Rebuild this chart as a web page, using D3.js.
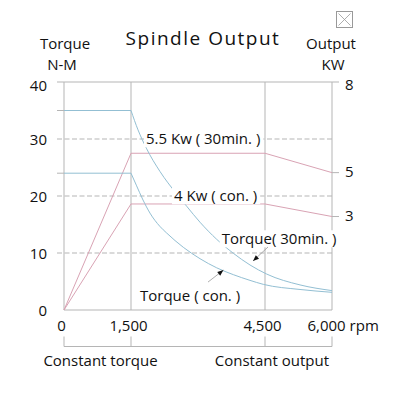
<!DOCTYPE html>
<html>
<head>
<meta charset="utf-8">
<script src="https://cdn.jsdelivr.net/npm/d3@7"></script>
<style>
  body { margin: 0; background: #fff; }
  svg { display: block; font-family: "Open Sans", sans-serif; }
</style>
</head>
<body>
<div id="chart"></div>
<script>
// axis ticks
const rpmTicks = [0, 1500, 4500, 6000];
const torqueTicks = [0, 10, 20, 30, 40];
const torqueGrid = [10, 20, 30];
const torqueMarks = [35, 24];            // short ticks where the torque lines start
const outputTicks = ["8", "5", "3"];
const outputTickAt = [40, 24.1, 16.4];    // where they sit, in torque-axis units

// torque curves (N-M)
const torque30Rpm = [0, 1500, 1657, 1843, 2149, 2507, 2747, 3045, 3419, 3791, 4164, 4539, 5284, 6000];
const torque30Nm  = [35, 35, 31.6, 28.4, 24.3, 20.5, 18.2, 15.4, 12.4, 9.95, 7.9, 6.3, 4.4, 3.4];
const torqueConRpm = [0, 1500, 1619, 1769, 1925, 2143, 2299, 2671, 3045, 3419, 3791, 4164, 4462, 5284, 6000];
const torqueConNm  = [24, 24, 21.9, 19.3, 17.0, 14.7, 13.5, 11.0, 9.0, 7.4, 6.2, 5.2, 4.5, 3.6, 3.1];

// output curves, drawn against the torque axis
const powerRpm = [0, 1500, 4500, 6000];
const power30  = [0, 27.5, 27.5, 24.1];
const powerCon = [0, 18.6, 18.6, 16.4];

const labels = [
  { text: "5.5 Kw ( 30min. )", rpm: 1836, at: 30 },
  { text: "4 Kw ( con. )", rpm: 2463, at: 20 },
  { text: "Torque( 30min. )", rpm: 3531, at: 12.45 },
  { text: "Torque ( con. )", rpm: 1702, at: 2.55 }
];
const arrows = [
  { rpm0: 4567, nm0: 11.05, rpm1: 4232, nm1: 8.6 },
  { rpm0: 3224, nm0: 4.9, rpm1: 3570, nm1: 7.0 }
];

const width = 398, height = 398;
const grey = "#b5b5b5", blue = "#93bfd3", pink = "#d9a3b4";

const svg = d3.select("#chart").append("svg")
  .attr("width", width)
  .attr("height", height);

const x = d3.scaleLinear().domain([0, 6000]).range([64, 332]);
const y = d3.scaleLinear().domain([0, 40]).range([310, 82]);

const grid = svg.append("g").attr("stroke", grey).attr("stroke-width", 1).attr("fill", "none");

// vertical lines
grid.selectAll(".v").data(rpmTicks).join("line")
  .attr("x1", d => x(d)).attr("x2", d => x(d))
  .attr("y1", y(0)).attr("y2", y(40));
// top and bottom
grid.append("line").attr("x1", x(0) - 7).attr("x2", x(6000) + 7).attr("y1", y(40)).attr("y2", y(40));
grid.append("line").attr("x1", x(0)).attr("x2", x(6000)).attr("y1", y(0)).attr("y2", y(0));
// dashed grid
grid.selectAll(".h").data(torqueGrid).join("line")
  .attr("stroke-dasharray", "5,2.5")
  .attr("x1", x(0) - 7).attr("x2", x(6000))
  .attr("y1", d => y(d)).attr("y2", d => y(d));
// small left ticks
grid.selectAll(".t").data(torqueMarks).join("line")
  .attr("x1", x(0) - 7).attr("x2", x(0))
  .attr("y1", d => y(d)).attr("y2", d => y(d));
// right ticks
grid.selectAll(".r").data(outputTickAt.slice(1)).join("line")
  .attr("x1", x(6000)).attr("x2", x(6000) + 7)
  .attr("y1", d => y(d)).attr("y2", d => y(d));

// bottom bracket
grid.append("line").attr("x1", x(0)).attr("x2", x(6000)).attr("y1", 346.5).attr("y2", 346.5);
grid.selectAll(".b").data(rpmTicks).join("line")
  .attr("x1", d => x(d)).attr("x2", d => x(d))
  .attr("y1", 336.5).attr("y2", 346.5);

// lines
const linear = d3.line().x(d => x(d[0])).y(d => y(d[1]));
const smooth = d3.line().x(d => x(d[0])).y(d => y(d[1])).curve(d3.curveMonotoneX);

function torquePath(rpm, nm) {
  const pts = rpm.map((r, i) => [r, nm[i]]);
  return linear(pts.slice(0, 2)) + smooth(pts.slice(1)).replace(/^M/, "L");
}

const lines = svg.append("g").attr("fill", "none").attr("stroke-width", 1);
lines.append("path").attr("stroke", pink).attr("d", linear(powerRpm.map((r, i) => [r, power30[i]])));
lines.append("path").attr("stroke", pink).attr("d", linear(powerRpm.map((r, i) => [r, powerCon[i]])));
lines.append("path").attr("stroke", blue).attr("d", torquePath(torque30Rpm, torque30Nm));
lines.append("path").attr("stroke", blue).attr("d", torquePath(torqueConRpm, torqueConNm));

// labels on white boxes
const lab = svg.append("g").attr("font-size", 15).attr("fill", "#111");
labels.forEach(l => {
  const g = lab.append("g");
  const t = g.append("text")
    .attr("x", x(l.rpm)).attr("y", y(l.at)).attr("dy", "0.35em")
    .text(l.text);
  const bb = t.node().getBBox();
  g.insert("rect", "text")
    .attr("x", bb.x - 2).attr("y", bb.y + 2)
    .attr("width", bb.width + 5).attr("height", bb.height - 3)
    .attr("fill", "#fff");
});

// arrows
svg.append("defs").append("marker")
  .attr("id", "head")
  .attr("viewBox", "0 -5 10 10")
  .attr("refX", 10).attr("refY", 0)
  .attr("markerUnits", "userSpaceOnUse")
  .attr("markerWidth", 8).attr("markerHeight", 6)
  .attr("orient", "auto")
  .append("path").attr("d", "M0,-4L10,0L0,4Z").attr("fill", "#111");

svg.append("g").selectAll("line").data(arrows).join("line")
  .attr("x1", d => x(d.rpm0)).attr("y1", d => y(d.nm0))
  .attr("x2", d => x(d.rpm1)).attr("y2", d => y(d.nm1))
  .attr("stroke", "#999").attr("stroke-width", 0.8)
  .attr("marker-end", "url(#head)");

// axes
const yAxis = svg.append("g")
  .attr("transform", `translate(${x(0)},0)`)
  .call(d3.axisLeft(y).tickValues(torqueTicks).tickSize(0).tickPadding(17));
const xAxis = svg.append("g")
  .attr("transform", `translate(0,${y(0)})`)
  .call(d3.axisBottom(x).tickValues(rpmTicks).tickSize(0).tickPadding(10)
    .tickFormat(d => d3.format(",")(d)));
[yAxis, xAxis].forEach(a => {
  a.select(".domain").remove();
  a.selectAll("text").attr("font-family", "Open Sans, sans-serif").attr("font-size", 15).attr("fill", "#111");
});
yAxis.selectAll("text").attr("dy", d => d === 40 ? "0.55em" : "0.35em");
xAxis.selectAll("text").attr("dx", -3);
xAxis.selectAll(".tick").filter(d => d === 6000).select("text")
  .attr("text-anchor", "start").attr("dx", -25).text("6,000 rpm");

const right = svg.append("g").attr("font-size", 15).attr("fill", "#111");
right.selectAll("text").data(outputTicks).join("text")
  .attr("x", x(6000) + 13)
  .attr("y", (d, i) => y(outputTickAt[i]))
  .attr("dy", (d, i) => i === 0 ? "0.55em" : "0.3em")
  .text(d => d);

// titles
const titles = svg.append("g").attr("fill", "#111").attr("text-anchor", "middle");
titles.append("text").attr("x", 203).attr("y", 45)
  .attr("font-size", 19).attr("letter-spacing", 1.5).text("Spindle Output");
titles.append("text").attr("x", 65).attr("y", 49).attr("font-size", 15).text("Torque");
titles.append("text").attr("x", 62).attr("y", 70).attr("font-size", 15).text("N-M");
titles.append("text").attr("x", 331).attr("y", 49).attr("font-size", 15).text("Output");
titles.append("text").attr("x", 333).attr("y", 70).attr("font-size", 15).text("KW");
titles.append("text").attr("x", (x(0) + x(1500)) / 2 + 3).attr("y", 366)
  .attr("font-size", 15).text("Constant torque");
titles.append("text").attr("x", x(6000) - 3).attr("y", 366)
  .attr("font-size", 15).attr("text-anchor", "end").text("Constant output");

// little boxed cross at top right
const box = svg.append("g").attr("stroke", "#999").attr("fill", "none").attr("stroke-width", 1);
box.append("rect").attr("x", 336.5).attr("y", 11.5).attr("width", 16).attr("height", 16);
box.append("path").attr("d", "M338.5,13.5L350.5,25.5M350.5,13.5L338.5,25.5").attr("stroke-width", 0.8);
</script>
</body>
</html>
